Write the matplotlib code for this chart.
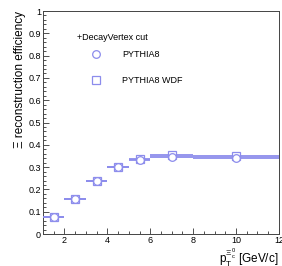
import matplotlib
matplotlib.use("Agg")
import matplotlib.pyplot as plt
from matplotlib.ticker import MultipleLocator

plt.rcParams['font.family'] = ['Liberation Sans', 'DejaVu Sans']

bin_lo = [1, 2, 3, 4, 5, 6, 8]
bin_hi = [2, 3, 4, 5, 6, 8, 12]
eff_pythia8 = [0.075, 0.157, 0.239, 0.300, 0.332, 0.346, 0.341]
eff_wdf = [0.075, 0.158, 0.240, 0.301, 0.335, 0.356, 0.349]

x_c = [(a + b) / 2 for a, b in zip(bin_lo, bin_hi)]
x_err = [(b - a) / 2 for a, b in zip(bin_lo, bin_hi)]

col = '#8c8cec'
fig = plt.figure(figsize=(2.82, 2.66), dpi=100)
ax = fig.add_axes([0.1525, 0.12, 0.8365, 0.8386])

ax.errorbar(x_c, eff_wdf, xerr=x_err, fmt='s', ms=5.5, mfc='white', mec=col,
            mew=0.9, color=col, ecolor=col, elinewidth=1.3, capsize=0, zorder=3)
ax.errorbar(x_c, eff_pythia8, xerr=x_err, fmt='o', ms=5.5, mfc='white', mec=col,
            mew=0.9, color=col, ecolor=col, elinewidth=1.3, capsize=0, zorder=4)

ax.set_xlim(1, 12)
ax.set_ylim(0, 1)
ax.xaxis.set_minor_locator(MultipleLocator(0.5))
ax.yaxis.set_minor_locator(MultipleLocator(0.02))
yt = [i / 10 for i in range(11)]
ax.set_yticks(yt)
ax.set_yticklabels(['0'] + ['%.1f' % v for v in yt[1:-1]] + ['1'])
ax.set_xticks([2, 4, 6, 8, 10, 12])
ax.set_xticklabels(['2', '4', '6', '8', '10', '12'])

ax.tick_params(which='both', direction='in', top=False, right=False, labelsize=6.5, pad=1.5, width=0.6, color='#333333')
ax.tick_params(which='major', length=4.5)
ax.tick_params(which='minor', length=2.3)
for s in ax.spines.values():
    s.set_linewidth(0.7)
    s.set_color('#444444')

ax.set_ylabel('Ξ reconstruction efficiency', fontsize=8.5, labelpad=2, y=1, ha='right')
ax.set_xlabel(r'$\mathregular{p_{T}^{\Xi_c^0}}$ [GeV/c]', fontsize=8.5, labelpad=1, x=1, ha='right')

ax.text(0.144, 0.883, '+DecayVertex cut', transform=ax.transAxes, fontsize=6.5, va='center')
ax.plot([0.225], [0.807], transform=ax.transAxes, marker='o', ms=5.5, mfc='white', mec=col, mew=0.9, ls='none')
ax.text(0.335, 0.807, 'PYTHIA8', transform=ax.transAxes, fontsize=6.5, va='center')
ax.plot([0.225], [0.69], transform=ax.transAxes, marker='s', ms=5.5, mfc='white', mec=col, mew=0.9, ls='none')
ax.text(0.335, 0.69, 'PYTHIA8 WDF', transform=ax.transAxes, fontsize=6.5, va='center')

fig.savefig('out.png', dpi=100)
